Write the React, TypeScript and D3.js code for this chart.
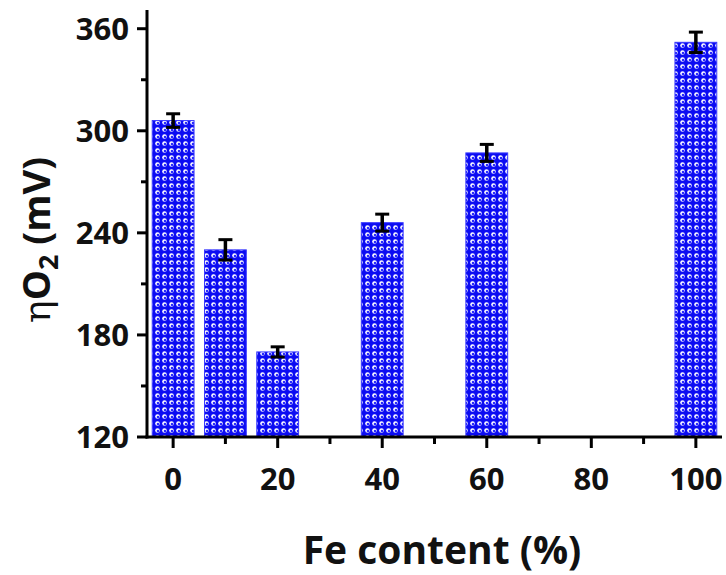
import React from "react";
import * as d3 from "d3";

const feContent = [0, 10, 20, 40, 60, 100];
const overpotential = [306, 230, 170, 246, 287, 352];
const errors = [4, 6, 3, 5, 5, 6];
const xMajorTicks = [0, 20, 40, 60, 80, 100];
const xMinorTicks = [10, 30, 50, 70, 90];
const yMajorTicks = [120, 180, 240, 300, 360];
const yMinorTicks = [150, 210, 270, 330];

const W = 726;
const H = 575;
const left = 147;
const right = 722;
const top = 10;
const bottom = 437;

export default function App() {
  const x = d3.scaleLinear().domain([-5, 105]).range([left, right]);
  const y = d3.scaleLinear().domain([120, 371]).range([bottom, top]);
  const halfW = 4;
  const font = "'Open Sans', Lato, sans-serif";
  return (
    <svg
      width={W}
      height={H}
      style={{ position: "absolute", left: 0, top: 0, background: "#fff" }}
    >
      <defs>
        <pattern id="dots" width={7} height={7} patternUnits="userSpaceOnUse">
          <rect width={7} height={7} fill="#0c0cf2" />
          <circle cx={3.5} cy={3.5} r={2.3} fill="#ffffff" />
          <circle cx={4} cy={4} r={1.3} fill="#2a2aff" />
        </pattern>
      </defs>
      {feContent.map((d, i) => (
        <rect
          key={"b" + i}
          x={x(d - halfW)}
          y={y(overpotential[i])}
          width={x(d + halfW) - x(d - halfW)}
          height={y(120) - y(overpotential[i])}
          fill="url(#dots)"
          stroke="#3a3aff"
          strokeWidth={1}
        />
      ))}
      {feContent.map((d, i) => {
        const cx = x(d);
        const y1 = y(overpotential[i] + errors[i]);
        const y0 = y(overpotential[i] - errors[i]);
        return (
          <g key={"e" + i} stroke="#000" strokeWidth={3}>
            <line x1={cx} x2={cx} y1={y1} y2={y0} strokeWidth={3.5} />
            <line x1={cx - 7} x2={cx + 7} y1={y1} y2={y1} />
            <line x1={cx - 7} x2={cx + 7} y1={y0} y2={y0} />
          </g>
        );
      })}
      {/* axes */}
      <line x1={left} x2={left} y1={top} y2={bottom + 1.5} stroke="#000" strokeWidth={3} />
      <line x1={left - 1.5} x2={right} y1={bottom} y2={bottom} stroke="#000" strokeWidth={3} />
      {yMajorTicks.map((t) => (
        <g key={"ym" + t}>
          <line x1={left - 10} x2={left} y1={y(t)} y2={y(t)} stroke="#000" strokeWidth={3} />
          <text
            x={left - 18}
            y={y(t)}
            dy="0.36em"
            textAnchor="end"
            fontFamily={font}
            fontWeight="bold"
            fontSize={31}
            fill="#111"
          >
            {t}
          </text>
        </g>
      ))}
      {yMinorTicks.map((t) => (
        <line key={"yn" + t} x1={left - 6} x2={left} y1={y(t)} y2={y(t)} stroke="#000" strokeWidth={3} />
      ))}
      {xMajorTicks.map((t) => (
        <g key={"xm" + t}>
          <line x1={x(t)} x2={x(t)} y1={bottom} y2={bottom + 11} stroke="#000" strokeWidth={3} />
          <text
            x={x(t)}
            y={bottom + 53}
            textAnchor="middle"
            fontFamily={font}
            fontWeight="bold"
            fontSize={31}
            fill="#111"
          >
            {t}
          </text>
        </g>
      ))}
      {xMinorTicks.map((t) => (
        <line key={"xn" + t} x1={x(t)} x2={x(t)} y1={bottom} y2={bottom + 7} stroke="#000" strokeWidth={3} />
      ))}
      <text
        x={442}
        y={564}
        textAnchor="middle"
        fontFamily={font}
        fontWeight="bold"
        fontSize={39}
        fill="#111"
      >
        Fe content (%)
      </text>
      <text
        transform={`translate(50, 240) rotate(-90)`}
        textAnchor="middle"
        fontFamily={font}
        fontWeight="bold"
        fontSize={38}
        fill="#111"
      >
        <tspan fontWeight="normal" fontFamily="'DejaVu Serif', serif">η</tspan>
        <tspan>O</tspan>
        <tspan fontSize={27} dy={8}>2</tspan>
        <tspan dy={-8}> (mV)</tspan>
      </text>
    </svg>
  );
}
